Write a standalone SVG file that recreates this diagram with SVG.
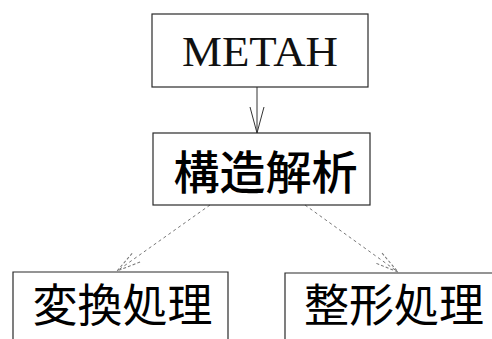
<svg xmlns="http://www.w3.org/2000/svg" width="492" height="339" viewBox="0 0 492 339">
<style>
.box{fill:none;stroke:#2a2a2a;stroke-width:1.2}
.cjk{font-family:"Noto Sans CJK JP","Noto Sans CJK SC",sans-serif;fill:#000;text-anchor:middle}
.lat{font-family:"Liberation Serif","Times New Roman",serif;fill:#111;text-anchor:middle}
.c-solid{fill:none;stroke:#333;stroke-width:1}
.c-dash{fill:none;stroke:#777;stroke-width:1;stroke-dasharray:3 3}
</style>
<defs>
<marker id="vs" viewBox="-26 -8 28 16" markerWidth="28" markerHeight="16" refX="0" refY="0" markerUnits="userSpaceOnUse" orient="auto">
<path d="M-26,-7 L0,0 L-26,7" fill="none" stroke="#333" stroke-width="1"/>
</marker>
<marker id="vd" viewBox="-26 -8 28 16" markerWidth="28" markerHeight="16" refX="0" refY="0" markerUnits="userSpaceOnUse" orient="auto">
<path d="M-24,-6 L0,0 L-24,6" fill="none" stroke="#777" stroke-width="1" stroke-dasharray="3 2"/>
</marker>
</defs>
<g id="connectors">
<path class="c-solid" d="M257,87 V133" marker-end="url(#vs)"/>
<path class="c-dash" d="M210,205 L117,271" marker-end="url(#vd)"/>
<path class="c-dash" d="M305,205 L398,272" marker-end="url(#vd)"/>
</g>
<g id="metah">
<rect class="box" x="152" y="14" width="216" height="73"/>
<text class="lat" x="260" y="66" font-size="43" textLength="156" lengthAdjust="spacingAndGlyphs">METAH</text>
</g>
<g id="kozo">
<rect class="box" x="153" y="133" width="217" height="72"/>
<text class="cjk" x="265.5" y="189" font-size="46" font-weight="500">構造解析</text>
</g>
<g id="henkan">
<path class="box" d="M13,340 V272 H228 V340"/>
<text class="cjk" x="122.5" y="322" font-size="45" font-weight="400">変換処理</text>
</g>
<g id="seikei">
<path class="box" d="M285,340 V273 H493"/>
<text class="cjk" x="394" y="322" font-size="45" font-weight="400">整形処理</text>
</g>
</svg>
